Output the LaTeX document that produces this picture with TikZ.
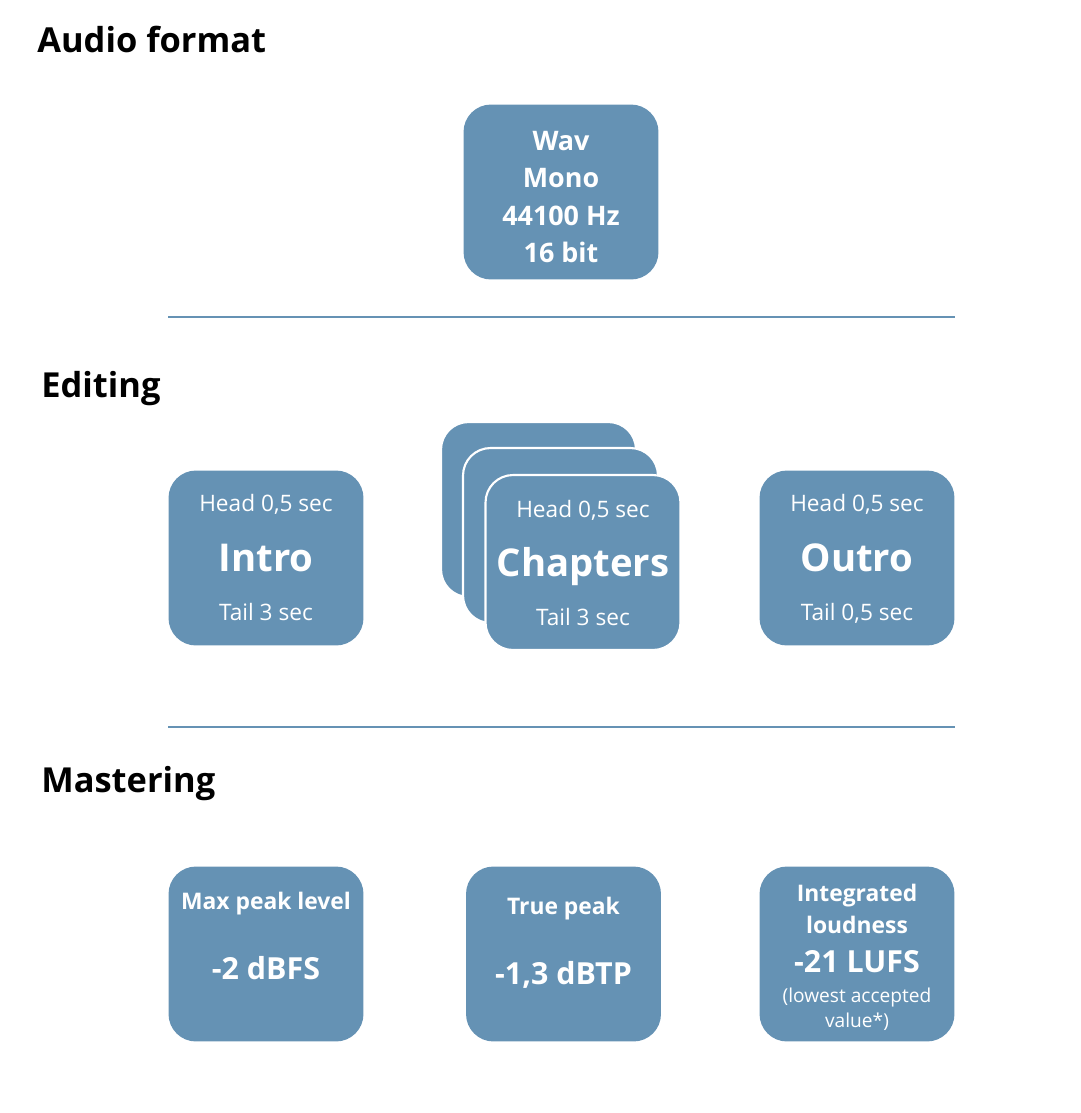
\documentclass[tikz,border=0pt]{standalone}
\usepackage{fontspec}
\setmainfont{Open Sans}
\definecolor{boxblue}{RGB}{101,146,180}

\tikzstyle{card} = [rectangle, rounded corners=0.55cm, fill=boxblue, minimum width=3.9cm, minimum height=3.5cm, inner sep=0pt]
\tikzstyle{stackcard} = [card, draw=white, line width=1.2pt]
\tikzstyle{heading} = [anchor=base west, inner sep=0pt, font=\fontsize{19.6pt}{22pt}\selectfont\bfseries]
\tikzstyle{small} = [anchor=base, inner sep=0pt, text=white, font=\fontsize{12.9pt}{15pt}\selectfont]
\tikzstyle{tiny} = [anchor=base, inner sep=0pt, text=white, font=\fontsize{10.9pt}{13pt}\selectfont]
\tikzstyle{label} = [anchor=base, inner sep=0pt, text=white, font=\fontsize{13pt}{15pt}\selectfont\bfseries]
\tikzstyle{format} = [anchor=base, inner sep=0pt, text=white, font=\fontsize{15.3pt}{17pt}\selectfont\bfseries]
\tikzstyle{value} = [anchor=base, inner sep=0pt, text=white, font=\fontsize{17.3pt}{19pt}\selectfont\bfseries]
\tikzstyle{big} = [anchor=base, inner sep=0pt, text=white, font=\fontsize{21.8pt}{24pt}\selectfont\bfseries]
\tikzstyle{rule} = [draw=boxblue, line width=1.6pt]

\begin{document}
\begin{tikzpicture}[x=0.02cm,y=-0.02cm]
      \useasboundingbox (0,0) rectangle (1081,1113);

      % audio format
      \node[heading] (hformat) at (37,52) {Audio format};
      \node[card] (wav) at (561,192) {};
      \node[format] (wavl1) at (561,150) {Wav};
      \node[format] (wavl2) at (561,187) {Mono};
      \node[format] (wavl3) at (561,225) {44100 Hz};
      \node[format] (wavl4) at (561,262) {16 bit};

      \draw[rule] (168,317) -- (955,317);

      % editing
      \node[heading] (hediting) at (41,397) {Editing};

      \node[card] (intro) at (266,558) {};
      \node[small] (introhead) at (266,511) {Head 0,5 sec};
      \node[big] (introname) at (266,571) {Intro};
      \node[small] (introtail) at (266,620) {Tail 3 sec};

      \node[stackcard] (chapc) at (538.5,509.5) {};
      \node[stackcard] (chapb) at (560.5,535.5) {};
      \node[stackcard] (chapa) at (583,562.5) {};
      \node[small] (chaphead) at (583,517) {Head 0,5 sec};
      \node[big] (chapname) at (583,576) {Chapters};
      \node[small] (chaptail) at (583,625) {Tail 3 sec};

      \node[card] (outro) at (857,558) {};
      \node[small] (outrohead) at (857,511) {Head 0,5 sec};
      \node[big] (outroname) at (857,571) {Outro};
      \node[small] (outrotail) at (857,620) {Tail 0,5 sec};

      \draw[rule] (168,727) -- (955,727);

      % mastering
      \node[heading] (hmastering) at (41,792) {Mastering};

      \node[card] (peak) at (266,954) {};
      \node[label] (peakl) at (266,909) {Max peak level};
      \node[value] (peakv) at (266,979) {-2 dBFS};

      \node[card] (truepeak) at (563.5,954) {};
      \node[label] (truepeakl) at (563.5,914) {True peak};
      \node[value] (truepeakv) at (563.5,984) {-1,3 dBTP};

      \node[card] (loud) at (857,954) {};
      \node[label] (loudl1) at (857,901) {Integrated};
      \node[label] (loudl2) at (857,933) {loudness};
      \node[value] (loudv) at (857,972) {-21 LUFS};
      \node[tiny] (loudn1) at (857,1002) {(lowest accepted};
      \node[tiny] (loudn2) at (857,1027) {value*)};
\end{tikzpicture}
\end{document}
